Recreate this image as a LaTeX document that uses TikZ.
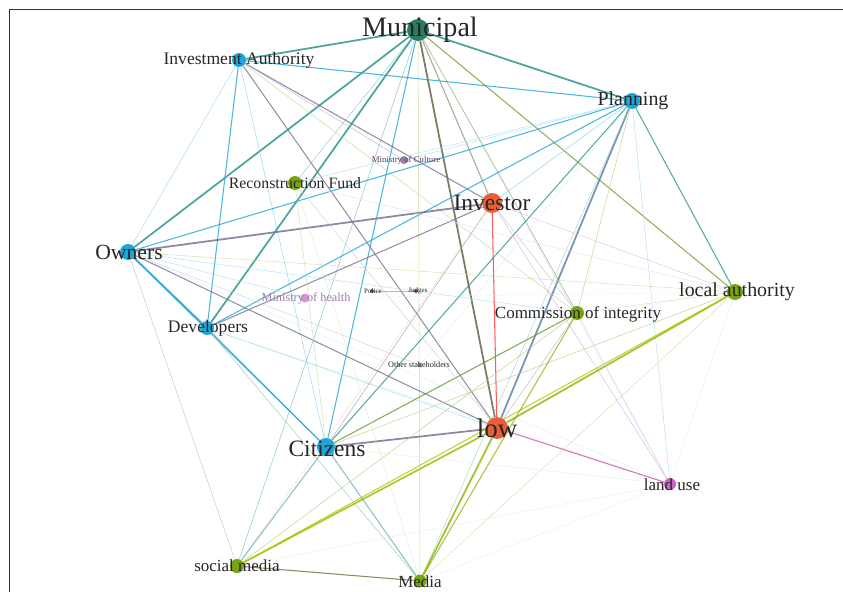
\documentclass[tikz,border=0pt]{standalone}
\usepackage{fontspec}
\setmainfont{Liberation Serif}
\usepackage{tikz}
\pgfdeclarelayer{bg}
\pgfsetlayers{bg,main}
\definecolor{gcyan}{RGB}{30,165,215}
\definecolor{gteal}{RGB}{40,125,100}
\definecolor{gtealedge}{RGB}{45,150,140}
\definecolor{gorange}{RGB}{230,95,55}
\definecolor{ggreen}{RGB}{120,165,15}
\definecolor{gpink}{RGB}{200,100,200}
\definecolor{gpurple}{RGB}{120,70,130}
\definecolor{golive}{RGB}{100,100,70}
\definecolor{ggray}{RGB}{120,115,145}
\newcommand{\fsz}[1]{\fontsize{#1}{#1}\selectfont}

\begin{document}
\begin{tikzpicture}[x=0.03cm, y=-0.03cm]
\tikzstyle{mydot} = [circle, fill, inner sep = 0 pt, draw = none]
\tikzstyle{mylbl} = [inner sep = 0 pt, text = black!85]
\tikzset{heavy/.style={line width=1.5pt, opacity=0.85}, mid/.style={line width=0.9pt, opacity=0.8}, thin/.style={line width=0.45pt, opacity=0.75}, faint/.style={line width=0.4pt, opacity=0.5}}
\useasboundingbox (0,0) rectangle (843,592);
\draw[line width=0.8pt, black!80] (9,592) -- (9,9.5) -- (843,9.5);

% dots
\node [mydot, gteal, minimum size = 0.66cm] (mun) at (418,30) {};
\node [mydot, gcyan, minimum size = 0.42cm] (inv) at (239,60) {};
\node [mydot, gcyan, minimum size = 0.48cm] (pla) at (632,101) {};
\node [mydot, gpurple!70, minimum size = 0.24cm] (mcu) at (404,160) {};
\node [mydot, ggreen, minimum size = 0.42cm] (rec) at (295,183) {};
\node [mydot, gorange, minimum size = 0.6cm] (ivs) at (492,203) {};
\node [mydot, gcyan, minimum size = 0.48cm] (own) at (128,252) {};
\node [mydot, ggreen, minimum size = 0.48cm] (loc) at (735,292) {};
\node [mydot, ggreen, minimum size = 0.42cm] (com) at (577,313) {};
\node [mydot, gpink!70, minimum size = 0.27cm] (mhe) at (305,298) {};
\node [mydot, gpurple, minimum size = 0.12cm] (ot1) at (372,291) {};
\node [mydot, gpurple, minimum size = 0.12cm] (ot2) at (416,291) {};
\node [mydot, gcyan, minimum size = 0.42cm] (dev) at (207,328) {};
\node [mydot, gpurple!60, minimum size = 0.15cm] (ost) at (420,365) {};
\node [mydot, gorange, minimum size = 0.66cm] (low) at (497,428) {};
\node [mydot, gcyan, minimum size = 0.54cm] (cit) at (326,447) {};
\node [mydot, gpink, minimum size = 0.36cm] (lan) at (670,484) {};
\node [mydot, ggreen, minimum size = 0.42cm] (soc) at (237,566) {};
\node [mydot, ggreen, minimum size = 0.39cm] (med) at (420,581) {};

% edges
\begin{pgfonlayer}{bg}
\foreach \a/\b/\c/\w in {mun/inv/gtealedge/heavy, mun/pla/gtealedge/heavy, mun/own/gtealedge/heavy, mun/dev/gtealedge/heavy,
 mun/cit/gcyan/mid, mun/low/golive/heavy, mun/ivs/golive!70/mid, mun/loc/ggreen!70!gray/mid, mun/com/ggreen!60!gray/thin,
 mun/med/ggreen!50/thin, mun/soc/gtealedge!70/thin, mun/lan/gcyan!40/faint, mun/rec/gtealedge!60/thin,
 inv/pla/gcyan/mid, inv/dev/gcyan/mid, inv/own/gcyan!50/thin, inv/ivs/ggray/mid, inv/low/ggray/mid, inv/cit/gcyan!60/thin,
 inv/mcu/gpurple!50/thin, inv/com/ggreen!50/thin,
 pla/own/gcyan/mid, pla/dev/gcyan/mid, pla/cit/gtealedge/mid, pla/low/ggray!70!gcyan/heavy, pla/loc/gtealedge/mid,
 pla/ivs/gcyan!60/thin, pla/com/ggreen!60/thin, pla/lan/gcyan!40/thin, pla/med/gtealedge!50/thin, pla/rec/gcyan!40/thin,
 own/ivs/ggray/heavy, own/low/ggray/mid, own/dev/gcyan/heavy, own/cit/gcyan/mid, own/loc/ggreen!40/thin,
 own/soc/gtealedge!50/thin, own/com/gcyan!40/thin, own/lan/gcyan!30/faint,
 dev/ivs/ggray/mid, dev/cit/gcyan/mid, dev/low/gcyan!50/thin, dev/med/gtealedge!60/thin, dev/lan/gcyan!30/faint,
 ivs/low/red!80/mid, ivs/cit/ggray!80/thin, ivs/loc/gpink!50/thin, ivs/lan/gpink!60/thin, ivs/soc/gorange!40/faint, ivs/com/ggray!50/thin,
 low/cit/ggray/heavy, low/lan/gpink!80!red/mid, low/loc/ggreen!80!yellow/heavy, low/soc/ggreen!70!yellow/heavy,
 low/med/ggreen!80!yellow/heavy, low/com/ggray!60/thin,
 cit/com/ggreen!70!gteal/mid, cit/loc/ggreen!60/thin, cit/soc/gtealedge!70/mid, cit/med/gtealedge!70/mid,
 cit/lan/gcyan!30/faint, cit/rec/ggreen!40/thin,
 loc/soc/ggreen!60!yellow/mid, loc/med/ggreen!40/thin, loc/lan/ggreen!30/faint, loc/com/ggreen!40/thin, loc/rec/gpink!30/thin,
 com/soc/ggreen!60/thin, com/med/ggreen!80!yellow/mid, com/lan/gpink!40/thin,
 soc/med/golive!80!ggreen/mid, soc/lan/gpink!30/faint, med/lan/gpink!30/faint, rec/low/ggray!40/thin, rec/med/ggreen!40/faint,
 mhe/own/gcyan!40/thin, mhe/loc/gpink!20/faint, mcu/pla/gcyan!40/thin, ost/own/ggray!40/thin, ost/pla/gcyan!30/faint,
 ot1/ot2/ggray!70/thin}
  \draw [\w, \c] (\a) -- (\b);
\end{pgfonlayer}

% labels
\node [mylbl, font = \fsz{24}] (munl) at (420,30) {Municipal};
\node [mylbl, font = \fsz{15}] (invl) at (239,60) {Investment Authority};
\node [mylbl, font = \fsz{17}] (plal) at (633,101) {Planning};
\node [mylbl, font = \fsz{7.5}, text = gpurple!80!black] (mcul) at (406,160) {Ministry of Culture};
\node [mylbl, font = \fsz{13.5}] (recl) at (295,183) {Reconstruction Fund};
\node [mylbl, font = \fsz{20}] (ivsl) at (492,203) {Investor};
\node [mylbl, font = \fsz{18.5}] (owml) at (129,252) {Owners};
\node [mylbl, font = \fsz{17}] (locl) at (737,292) {local authority};
\node [mylbl, font = \fsz{14.5}] (coml) at (578,314) {Commission of integrity};
\node [mylbl, font = \fsz{10.5}, text = gpurple!70] (mhel) at (306,298) {Ministry of health};
\node [mylbl, font = \fsz{6}] (ot1l) at (373,291) {Police};
\node [mylbl, font = \fsz{6}] (ot2l) at (418,291) {Judges};
\node [mylbl, font = \fsz{15}] (devl) at (208,328) {Developers};
\node [mylbl, font = \fsz{7}] (ostl) at (419,365) {Other stakeholders};
\node [mylbl, font = \fsz{23}] (lowl) at (497,428) {low};
\node [mylbl, font = \fsz{20}] (citl) at (327,449) {Citizens};
\node [mylbl, font = \fsz{14.5}] (lanl) at (672,485) {land use};
\node [mylbl, font = \fsz{14.5}] (socl) at (237,566) {social media};
\node [mylbl, font = \fsz{14.5}] (medl) at (420,582) {Media};
\end{tikzpicture}
\end{document}
